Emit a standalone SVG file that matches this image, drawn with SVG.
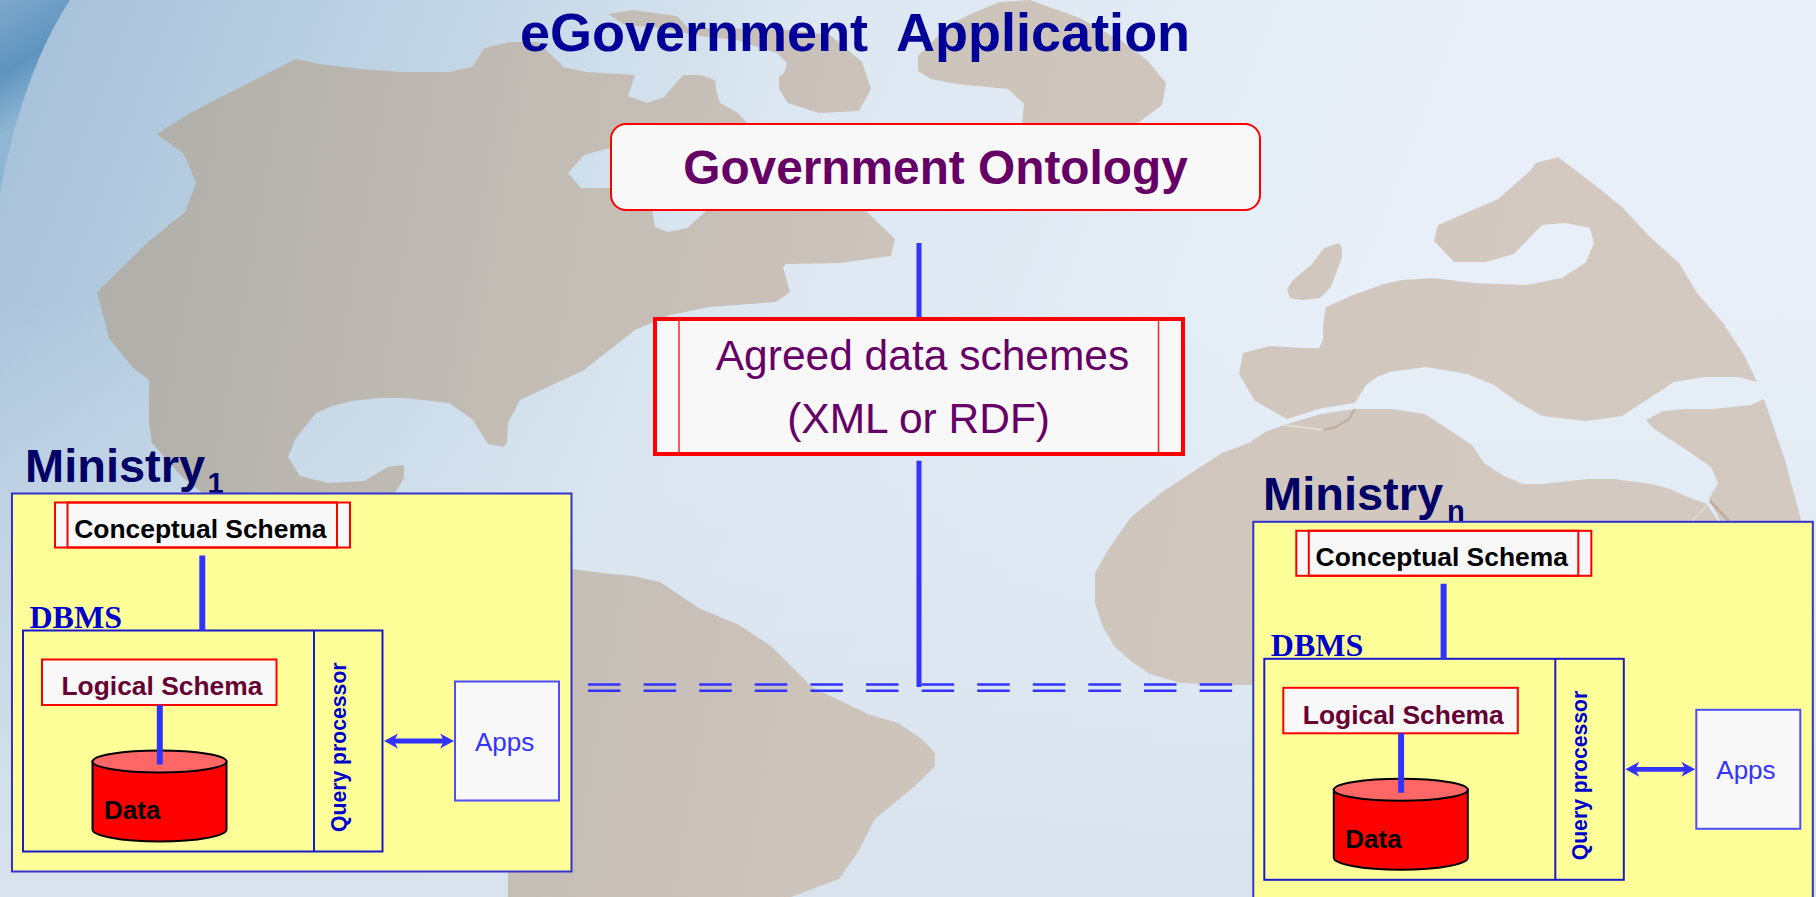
<svg xmlns="http://www.w3.org/2000/svg" width="1816" height="897" viewBox="0 0 1816 897">
<defs>
<linearGradient id="sea" gradientUnits="userSpaceOnUse" x1="0" y1="0" x2="1300" y2="500"><stop offset="0" stop-color="#a4bfd9"/><stop offset="0.25" stop-color="#bcd1e3"/><stop offset="0.55" stop-color="#dce7f1"/><stop offset="1" stop-color="#e8eff8"/></linearGradient>
<linearGradient id="seaLow" gradientUnits="userSpaceOnUse" x1="0" y1="300" x2="0" y2="897"><stop offset="0" stop-color="#d8e4ef" stop-opacity="0"/><stop offset="1" stop-color="#d8e3ee" stop-opacity="1"/></linearGradient>
<linearGradient id="land" gradientUnits="userSpaceOnUse" x1="100" y1="150" x2="1500" y2="400"><stop offset="0" stop-color="#afaea8"/><stop offset="0.3" stop-color="#c2bcb5"/><stop offset="0.55" stop-color="#ccc3bb"/><stop offset="1" stop-color="#d3c9c0"/></linearGradient>
<linearGradient id="swoosh" gradientUnits="userSpaceOnUse" x1="0" y1="0" x2="60" y2="100"><stop offset="0" stop-color="#7fa8cb"/><stop offset="0.55" stop-color="#5f94bf"/><stop offset="1" stop-color="#8fb6d3"/></linearGradient>
<marker id="barb" markerUnits="userSpaceOnUse" markerWidth="18" markerHeight="16" refX="9" refY="8" orient="auto-start-reverse"><path d="M15,8 L1,0.5 L5,8 L1,15.5 Z" fill="#3333ff"/></marker>
</defs>
<style>
text{font-family:"Liberation Sans",Arial,sans-serif;white-space:pre}
.b{font-weight:bold}
.land{fill:url(#land);fill-rule:evenodd}
.panel{fill:#f8f8f8;stroke:#ff0000;stroke-width:2}
.thin{fill:none;stroke:#ff2222;stroke-width:1.5}
.ybox{fill:#ffff99;stroke:#3333cc;stroke-width:2}
.dbox{fill:#ffff99;stroke:#1a1acc;stroke-width:2}
.app{fill:#f8f8f8;stroke:#4d4dff;stroke-width:2}
.link{stroke:#3333ff;fill:none}
.ministry{font-size:47px;fill:#000066;font-weight:bold}
.sub{font-size:29px;fill:#000066;font-weight:bold}
.s{font-size:26.4px;font-weight:bold}
.dbms{font-family:"Liberation Serif",serif;font-size:32px;font-weight:bold;fill:#0000cc}
</style>
<g id="background">
<rect width="1816" height="897" fill="url(#sea)"/>
<rect width="1816" height="897" fill="url(#seaLow)"/>
<path d="M0,0 H70 C38,48 15,115 0,193 Z" fill="url(#swoosh)"/>
<path class="land" d="M157,134 L190,113 L225,95 L296,59 L320,64 L360,69 L403,72 L449,72 L472,67 L484,48 L509,42 L538,42 L548,52 L560,63 L563,67 L587,72 L635,75 L628,96 L647,103 L664,97 L683,75 L700,75 L715,80 L716,90 L720,103 L738,113 L747,123 L800,130 L865,210 L895,239 L891,256 L840,263 L786,264 L783,267 L790,292 L776,302 L710,307 L670,315 L635,330 L584,370 L520,400 L508,423 L507,442 L504,447 L488,444 L472,419 L449,403 L405,398 L379,398 L352,401 L332,406 L316,413 L296,438 L288,457 L300,476 L328,483 L364,481 L388,467 L404,465 L404,478 L395,493 L395,510 L210,510 L201,492 L182,477 L152,443 L149,423 L149,380 L132,367 L109,338 L97,292 L148,242 L185,212 L196,183 L184,154 Z M640,140 L610,148 L584,155 L568,173 L581,188 L640,188 L652,210 L655,227 L668,232 L687,228 L730,190 L720,140 Z"/>
<path class="land" d="M608,14 L633,10 L677,16 L688,28 L720,28 L790,30 L830,35 L862,62 L871,89 L859,111 L819,113 L788,103 L779,89 L779,77 L784,73 L787,63 L777,53 L757,47 L737,40 L700,36 L660,28 L625,25 Z"/>
<path class="land" d="M918,56 L918,71 L931,79 L957,84 L1008,89 L1024,104 L1022,123 L1022,140 L1138,140 L1138,123 L1162,105 L1166,83 L1147,60 L1123,42 L1080,18 L1030,0 L1000,2 L975,12 L953,23 L937,37 Z"/>
<path class="land" d="M508,897 L508,560 L572,569 L602,573 L633,576 L660,582 L699,608 L739,625 L771,646 L812,687 L868,714 L898,723 L923,740 L935,753 L935,766 L916,785 L875,819 L858,852 L839,879 L791,897 Z"/>
<path class="land" d="M1558,157 L1595,185 L1622,207 L1650,237 L1679,263 L1697,293 L1723,323 L1744,355 L1757,382 L1738,377 L1705,377 L1674,382 L1622,416 L1586,421 L1542,416 L1516,401 L1494,385 L1467,374 L1426,367 L1390,372 L1377,377 L1366,385 L1355,403 L1322,408 L1287,419 L1255,401 L1239,374 L1243,353 L1270,346 L1304,348 L1319,348 L1323,340 L1323,325 L1326,307 L1353,295 L1384,284 L1402,280 L1434,278 L1473,283 L1526,285 L1562,278 L1586,262 L1594,243 L1590,228 L1565,223 L1542,225 L1514,254 L1486,262 L1454,262 L1434,241 L1438,225 L1498,199 L1531,170 L1536,163 Z"/>
<path class="land" d="M1339,243 L1342,248 L1342,257 L1331,287 L1320,298 L1302,300 L1290,298 L1287,289 L1293,280 L1312,264 L1324,248 Z"/>
<path class="land" d="M1355,409 L1392,409 L1425,414 L1472,445 L1484,463 L1504,476 L1523,484 L1543,484 L1587,479 L1614,479 L1651,484 L1670,489 L1690,498 L1707,504 L1724,530 L1300,530 L1300,685 L1220,685 L1181,683 L1150,674 L1132,662 L1114,646 L1102,625 L1095,603 L1095,573 L1108,550 L1131,517 L1162,492 L1222,453 L1249,443 L1265,432 L1287,424 L1321,414 Z"/>
<path class="land" d="M1646,420 L1663,411 L1685,409 L1712,409 L1751,405 L1764,399 L1785,460 L1801,520 L1801,530 L1725,530 L1709,499 L1718,483 L1711,467 L1685,449 L1654,429 Z"/>
<path d="M1355,409 L1349,419 L1336,427 L1323,430" fill="none" stroke="#bfae9f" stroke-width="2"/>
<path d="M1710,501 L1729,521" fill="none" stroke="#bfae9f" stroke-width="3"/>
<path d="M1284,425 L1323,430 M1710,503 L1692,521" fill="none" stroke="#f0ece6" stroke-width="1"/>
</g>
<g id="title"><text class="b" x="520" y="50.7" font-size="54" fill="#000099">eGovernment  Application</text></g>
<g id="government-ontology">
<rect class="panel" x="611" y="124" width="649" height="86" rx="15"/>
<text class="b" x="935.5" y="184" font-size="47.8" fill="#660066" text-anchor="middle">Government Ontology</text>
</g>
<g id="agreed-data-schemes">
<rect class="panel" x="655" y="319" width="528" height="135" style="stroke-width:4"/>
<path class="thin" d="M679,319 V454 M1158.5,319 V454"/>
<text x="922.5" y="370.3" font-size="42.5" fill="#660066" text-anchor="middle">Agreed data schemes</text>
<text x="918.6" y="432.5" font-size="42.5" fill="#660066" text-anchor="middle">(XML or RDF)</text>
</g>
<g id="ministry-1">
<text class="ministry" x="25" y="481.7">Ministry</text><text class="sub" x="207.5" y="492.5">1</text>
<rect class="ybox" x="12" y="493.5" width="559.5" height="378"/>
<rect class="panel" x="55" y="502.5" width="295" height="45"/>
<path class="panel" d="M67.5,502.5 V547.5 H337 V502.5 Z" style="fill:none"/>
<text class="s" x="74.3" y="538" fill="#000000">Conceptual Schema</text>
<text class="dbms" x="29.5" y="628">DBMS</text>
<rect class="dbox" x="23" y="630.5" width="359.5" height="221"/>
<path class="dbox" d="M314,630.5 V851.5" style="fill:none"/>
<rect class="panel" x="42" y="659.5" width="234.5" height="45.5"/>
<text class="s" x="61.5" y="695.3" fill="#660033">Logical Schema</text>
<path d="M92.5,761.5 V829.5 C92.5,835.5 120,841.5 159.5,841.5 C199,841.5 226.5,835.5 226.5,829.5 V761.5 Z" fill="#ff0000" stroke="#000000" stroke-width="2"/>
<ellipse cx="159.5" cy="761.5" rx="67" ry="11" fill="#ff6666" stroke="#000000" stroke-width="2"/>
<text class="s" x="104" y="819.3" fill="#000000" style="font-size:26px">Data</text>
<text class="b" transform="translate(345.5,832) rotate(-90)" font-size="21.2" fill="#0000cc">Query processor</text>
<rect class="app" x="455" y="681.5" width="104" height="119"/>
<text x="475" y="751" font-size="26" fill="#3333ff">Apps</text>
</g>
<g id="ministry-n">
<text class="ministry" x="1263" y="510">Ministry</text><text class="sub" x="1447" y="520.8">n</text>
<g transform="translate(1241.3,28.3)">
<rect class="ybox" x="12" y="493.5" width="559.5" height="378"/>
<rect class="panel" x="55" y="502.5" width="295" height="45"/>
<path class="panel" d="M67.5,502.5 V547.5 H337 V502.5 Z" style="fill:none"/>
<text class="s" x="74.3" y="538" fill="#000000">Conceptual Schema</text>
<text class="dbms" x="29.5" y="628">DBMS</text>
<rect class="dbox" x="23" y="630.5" width="359.5" height="221"/>
<path class="dbox" d="M314,630.5 V851.5" style="fill:none"/>
<rect class="panel" x="42" y="659.5" width="234.5" height="45.5"/>
<text class="s" x="61.5" y="695.3" fill="#660033">Logical Schema</text>
<path d="M92.5,761.5 V829.5 C92.5,835.5 120,841.5 159.5,841.5 C199,841.5 226.5,835.5 226.5,829.5 V761.5 Z" fill="#ff0000" stroke="#000000" stroke-width="2"/>
<ellipse cx="159.5" cy="761.5" rx="67" ry="11" fill="#ff6666" stroke="#000000" stroke-width="2"/>
<text class="s" x="104" y="819.3" fill="#000000" style="font-size:26px">Data</text>
<text class="b" transform="translate(345.5,832) rotate(-90)" font-size="21.2" fill="#0000cc">Query processor</text>
<rect class="app" x="455" y="681.5" width="104" height="119"/>
<text x="475" y="751" font-size="26" fill="#3333ff">Apps</text>
</g>
</g>
<g id="connectors">
<path class="link" stroke-width="5" d="M919,243 V317 M919,460.7 V687"/>
<path class="link" stroke-width="2.6" stroke-dasharray="32.5 23.1" d="M588,684.5 H1237 M588,690.8 H1237"/>
<path class="link" stroke-width="6" d="M202.3,555.5 V630.5 M159.8,705 V764.5"/>
<path class="link" stroke-width="6" d="M1443.6,583.8 V658.8 M1401.1,733.3 V792.8"/>
<path class="link" stroke-width="4.8" marker-start="url(#barb)" marker-end="url(#barb)" d="M390,741 H448"/>
<path class="link" stroke-width="4.8" marker-start="url(#barb)" marker-end="url(#barb)" d="M1631.3,769.3 H1689.3"/>
</g>
</svg>
